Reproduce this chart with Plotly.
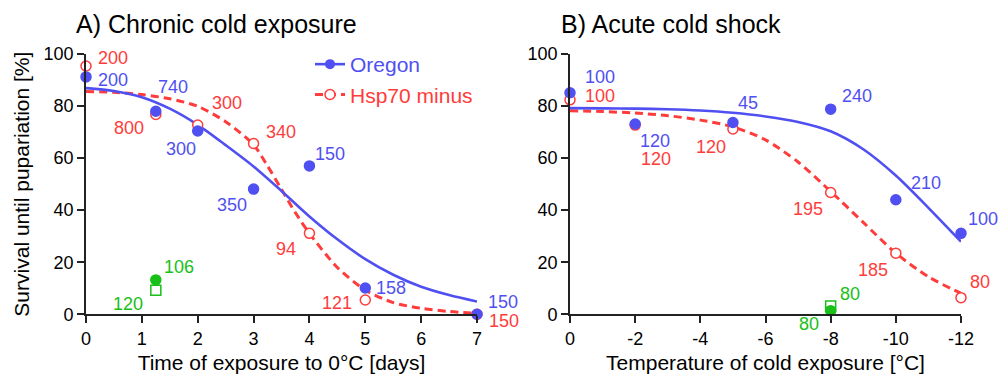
import plotly.graph_objects as go

# ---------------- data ----------------
# Panel A: chronic cold exposure (days at 0 °C)
a_days = [0, 1.25, 2, 3, 4, 5, 7]
a_oregon = [91.2, 78.0, 70.4, 48.1, 57.0, 10.1, 0.0]
a_oregon_n = ["200", "740", "300", "350", "150", "158", "150"]
a_hsp = [95.4, 76.8, 72.7, 65.6, 31.1, 5.5, 0.0]
a_hsp_n = ["200", "800", "300", "340", "94", "121", "150"]
a_green_x = [1.25]
a_green_fill = [13.2]
a_green_fill_n = ["106"]
a_green_sq = [9.2]
a_green_sq_n = ["120"]
# fitted curves
a_fit_x = [0, 0.5, 1, 1.5, 2, 2.5, 3, 3.5, 4, 4.5, 5, 5.5, 6, 6.5, 7]
a_fit_oregon = [86.9, 85.8, 83.4, 79.0, 72.8, 65.0, 56.8, 47.4, 37.6, 28.8, 21.2, 15.2, 10.6, 7.4, 4.9]
a_fit_hsp_x = [0, 0.5, 1, 1.5, 2, 2.5, 3, 3.25, 3.5, 3.75, 4, 4.5, 5, 5.5, 6, 6.5, 7]
a_fit_hsp = [85.6, 85.3, 84.4, 82.8, 79.9, 74.0, 65.1, 57.0, 48.0, 39.0, 31.1, 18.0, 9.3, 4.5, 2.3, 1.1, 0.4]

# Panel B: acute cold shock (temperature °C)
b_temp = [0, -2, -5, -8, -10, -12]
b_oregon = [85.1, 73.1, 73.7, 78.8, 44.0, 31.1]
b_oregon_n = ["100", "120", "45", "240", "210", "100"]
b_hsp = [82.4, 72.7, 71.2, 46.8, 23.5, 6.4]
b_hsp_n = ["100", "120", "120", "195", "185", "80"]
b_green_x = [-8]
b_green_fill = [1.4]
b_green_fill_n = ["80"]
b_green_sq = [3.2]
b_green_sq_n = ["80"]
b_fit_x = [0, -1, -2, -3, -4, -5, -6, -7, -8, -9, -10, -11, -12]
b_fit_oregon = [79.2, 79.1, 79.0, 78.8, 78.3, 77.4, 76.0, 73.9, 70.3, 63.4, 53.3, 40.9, 27.9]
b_fit_hsp = [78.2, 77.9, 77.3, 76.3, 74.6, 72.0, 67.0, 58.5, 47.2, 35.3, 23.5, 14.4, 8.1]

y_ticks = [0, 20, 40, 60, 80, 100]
a_x_ticks = [0, 1, 2, 3, 4, 5, 6, 7]
b_x_ticks = [0, -2, -4, -6, -8, -10, -12]
b_x_ticklabels = ["0", "-2", "-4", "-6", "-8", "-10", "-12"]

# ---------------- styles ----------------
BLUE = "#5050F2"
RED = "#FF3C3C"
GREEN = "#18C018"
FONT = "Liberation Sans, Arial, sans-serif"
W, H = 1008, 374

# label placement (anchor, dx px, dy px downward)
a_oregon_pos = [("left", 10, 3), ("left", 0, -24), ("right", 0, 18), ("right", -5, 16),
                ("left", 4, -12), ("left", 9, 0), ("left", 9, -12)]
a_hsp_pos = [("left", 10, -8), ("right", -10, 14), ("left", 12, -22), ("left", 10, -12),
             ("right", -11, 16), ("right", -11, 3), ("left", 10, 7)]
a_gf_pos = [("left", 6, -13)]
a_gs_pos = [("right", -11, 14)]
b_oregon_pos = [("left", 13, -16), ("left", 3, 17), ("left", 3, -19), ("left", 9, -13),
                ("left", 13, -17), ("left", 5, -14)]
b_hsp_pos = [("left", 13, -4), ("left", 4, 34), ("right", -5, 18), ("right", -6, 17),
             ("right", -6, 17), ("left", 7, -16)]
b_gs_pos = [("left", 7, -12)]
b_gf_pos = [("right", -10, 13)]

fig = go.Figure()

def curves(xo, yo, xh, yh, xa, ya):
    fig.add_trace(go.Scatter(x=xh, y=yh, mode="lines",
                             line=dict(color=RED, width=3, dash="8px,5px", shape="spline", smoothing=0.8),
                             xaxis=xa, yaxis=ya, showlegend=False, hoverinfo="skip"))
    fig.add_trace(go.Scatter(x=xo, y=yo, mode="lines",
                             line=dict(color=BLUE, width=2.6, shape="spline", smoothing=0.8),
                             xaxis=xa, yaxis=ya, showlegend=False, hoverinfo="skip"))

def points(xs, ys, color, symbol, fill, xa, ya):
    fig.add_trace(go.Scatter(x=xs, y=ys, mode="markers", cliponaxis=False,
                             marker=dict(symbol=symbol, size=10, color=fill,
                                         line=dict(color=color, width=1.5)),
                             xaxis=xa, yaxis=ya, showlegend=False))

curves(a_fit_x, a_fit_oregon, a_fit_hsp_x, a_fit_hsp, "x", "y")
curves(b_fit_x, b_fit_oregon, b_fit_x, b_fit_hsp, "x2", "y2")
points(a_days, a_hsp, RED, "circle", "white", "x", "y")
points(a_days, a_oregon, BLUE, "circle", BLUE, "x", "y")
points(a_green_x, a_green_sq, GREEN, "square", "white", "x", "y")
points(a_green_x, a_green_fill, GREEN, "circle", GREEN, "x", "y")
points(b_temp, b_hsp, RED, "circle", "white", "x2", "y2")
points(b_temp, b_oregon, BLUE, "circle", BLUE, "x2", "y2")
points(b_green_x, b_green_sq, GREEN, "square", "white", "x2", "y2")
points(b_green_x, b_green_fill, GREEN, "circle", GREEN, "x2", "y2")

# legend-only traces
fig.add_trace(go.Scatter(x=[None], y=[None], mode="lines+markers", name="Oregon", legendgroup="a",
                         line=dict(color=BLUE, width=2.6), marker=dict(size=10, color=BLUE)))
fig.add_trace(go.Scatter(x=[None], y=[None], mode="lines+markers",
                         name="<span style='color:%s'>Hsp70 minus</span>" % RED, legendgroup="b",
                         line=dict(color=RED, width=3, dash="8px,5px"),
                         marker=dict(size=10, color="white", line=dict(color=RED, width=1.5))))

annotations = []

def labels(xs, ys, texts, pos, color, xref, yref):
    for x, y, t, (anc, dx, dy) in zip(xs, ys, texts, pos):
        annotations.append(dict(x=x, y=y, xref=xref, yref=yref, text=t, showarrow=False,
                                xanchor=anc, yanchor="middle", xshift=dx, yshift=-dy,
                                font=dict(family=FONT, size=18, color=color)))

labels(a_days, a_oregon, a_oregon_n, a_oregon_pos, BLUE, "x", "y")
labels(a_days, a_hsp, a_hsp_n, a_hsp_pos, RED, "x", "y")
labels(a_green_x, a_green_fill, a_green_fill_n, a_gf_pos, GREEN, "x", "y")
labels(a_green_x, a_green_sq, a_green_sq_n, a_gs_pos, GREEN, "x", "y")
labels(b_temp, b_oregon, b_oregon_n, b_oregon_pos, BLUE, "x2", "y2")
labels(b_temp, b_hsp, b_hsp_n, b_hsp_pos, RED, "x2", "y2")
labels(b_green_x, b_green_sq, b_green_sq_n, b_gs_pos, GREEN, "x2", "y2")
labels(b_green_x, b_green_fill, b_green_fill_n, b_gf_pos, GREEN, "x2", "y2")

annotations.append(dict(x=74 / W, y=1 - 24 / H, xref="paper", yref="paper", text="A) Chronic cold exposure",
                        showarrow=False, xanchor="left", yanchor="middle",
                        font=dict(family=FONT, size=25, color="black")))
annotations.append(dict(x=559 / W, y=1 - 24 / H, xref="paper", yref="paper", text="B) Acute cold shock",
                        showarrow=False, xanchor="left", yanchor="middle",
                        font=dict(family=FONT, size=25, color="black")))

ydom = [(H - 314.3) / H, (H - 54) / H]
axis_common = dict(showline=True, linecolor="#222", linewidth=1.6, ticks="outside", ticklen=7,
                   tickwidth=1.6, tickcolor="#222", showgrid=False, zeroline=False, automargin=False,
                   tickfont=dict(family=FONT, size=18, color="black"))

fig.update_layout(
    width=W, height=H, margin=dict(l=0, r=0, t=0, b=0, autoexpand=False),
    paper_bgcolor="white", plot_bgcolor="white",
    font=dict(family=FONT, color="black"),
    xaxis=dict(domain=[86 / W, 477 / W], range=[0, 7], tickvals=a_x_ticks, anchor="y",
               title=dict(text="Time of exposure to 0°C [days]", font=dict(size=21), standoff=10),
               **axis_common),
    yaxis=dict(domain=ydom, range=[0, 100], tickvals=y_ticks, anchor="x",
               title=dict(text="Survival until pupariation [%]", font=dict(size=21), standoff=8),
               **axis_common),
    xaxis2=dict(domain=[570 / W, 961 / W], range=[0, -12], tickvals=b_x_ticks, ticktext=b_x_ticklabels,
                anchor="y2",
                title=dict(text="Temperature of cold exposure [°C]", font=dict(size=21), standoff=10),
                **axis_common),
    yaxis2=dict(domain=ydom, range=[0, 100], tickvals=y_ticks, anchor="x2", **axis_common),
    legend=dict(x=310 / W, y=1 - 44 / H, xanchor="left", yanchor="top", bgcolor="rgba(0,0,0,0)",
                font=dict(family=FONT, size=21, color=BLUE), traceorder="grouped", tracegroupgap=0,
                itemwidth=30),
    annotations=annotations,
    showlegend=True,
)

fig.write_html("out.html")
